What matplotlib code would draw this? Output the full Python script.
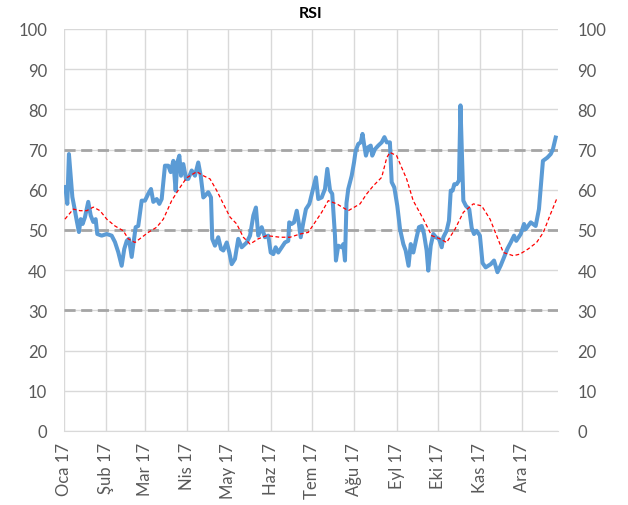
import numpy as np
import matplotlib
matplotlib.use("Agg")
import matplotlib.pyplot as plt

# Days since 2017-01-01 and RSI values
rsi_days = [1, 2.4, 3.6, 4.9, 6.1, 7.5, 9.3, 10.9, 12.2, 13.6, 15.3, 17.7, 19.5, 21.4, 23.1, 24.3,
            27.5, 31.2, 34.8, 37.2, 39.6, 42.1, 44.0, 45.8, 47.4, 49.4, 52.3, 54.2, 56.7, 59.1,
            61.5, 63.5, 65.2, 67.7, 69.6, 71.3, 73.7, 76.1, 77.9, 79.8, 81.5, 82.7, 84.2, 85.4,
            87.1, 89.1, 90.7, 93.2, 95.6, 98.0, 99.8, 101.7, 102.9, 105.3, 107.3, 108.2, 110.2,
            112.6, 114.6, 116.3, 118.8, 120.7, 122.4, 124.8, 127.2, 129.7, 133.4, 135.8, 138.2,
            140.1, 141.8, 144.3, 146.7, 149.1, 150.9, 152.8, 154.5, 156.4, 158.9, 161.3, 163.7,
            164.4, 166.2, 167.9, 169.9, 171.5, 172.8, 174.7, 176.6, 179.1, 181.5, 183.9, 185.6,
            188.1, 190.5, 192.2, 194.2, 195.8, 197.8, 198.5, 200.2, 202.7, 203.9, 205.1, 206.2,
            207.5, 210.0, 211.7, 212.9, 214.8, 216.6, 217.9, 219.0, 220.4, 222.1, 223.9, 225.0,
            227.0, 229.4, 231.9, 233.9, 235.6, 237.9, 239.2, 241.1, 243.3, 245.3, 247.7, 249.4,
            251.5, 253.1, 255.0, 257.4, 259.1, 261.1, 262.8, 264.7, 265.9, 267.7, 269.6, 271.5,
            273.7, 275.7, 276.9, 279.3, 281.0, 282.3, 283.7, 284.9, 286.6, 288.3, 289.4, 290.3,
            291.5, 293.4, 295.8, 297.6, 299.3, 301.2, 303.6, 305.5, 307.8, 311.5, 313.9, 316.4,
            318.8, 321.2, 323.6, 326.1, 328.5, 330.1, 333.4, 335.8, 337.0, 340.7, 344.3, 346.7,
            349.6, 352.8, 355.3, 356.9, 358.9]
rsi_vals = [60.7, 56.5, 68.9, 63.5, 58.2, 55.7, 52.3, 49.5, 52.7, 51.5, 53.2, 57.0, 53.6, 52.0, 52.7, 49.0,
            48.6, 49.0, 48.6, 47.0, 44.5, 41.1, 45.3, 47.3, 47.8, 43.3, 50.7, 51.0, 57.3, 57.3,
            59.0, 60.2, 57.0, 57.7, 56.5, 57.7, 66.0, 66.0, 64.4, 67.2, 59.8, 66.8, 68.5, 63.5,
            66.4, 62.7, 62.7, 64.8, 63.5, 66.8, 63.5, 58.1, 58.5, 59.4, 58.1, 47.8, 46.1,
            48.2, 45.3, 44.9, 46.9, 44.4, 41.5, 42.8, 47.8, 45.7, 46.9, 48.6, 53.6,
            55.6, 48.6, 50.7, 48.2, 48.6, 44.4, 44.0, 45.7, 44.4, 45.7, 46.9, 47.3,
            51.9, 51.5, 51.9, 54.8, 51.5, 48.2, 51.9, 55.2, 56.5, 59.8, 63.1, 57.7,
            58.1, 60.2, 65.2, 59.8, 59.0, 48.6, 42.4, 46.1, 45.7, 46.5, 42.4, 56.7,
            60.2, 63.5, 66.8, 69.7, 71.4, 71.8, 73.9, 71.4, 68.5, 70.6, 71.0, 68.5,
            70.1, 71.0, 71.8, 73.1, 71.8, 71.8, 61.9, 60.6, 56.0, 50.2, 46.5, 44.9,
            41.1, 46.5, 44.4, 48.2, 50.7, 51.0, 49.0, 44.9, 39.9, 46.1, 49.0, 48.2,
            47.8, 45.7, 48.2, 49.8, 52.3, 59.8, 59.8, 61.4, 61.4, 62.3, 81.0, 70.6,
            57.3, 56.0, 55.2, 50.5, 49.0, 49.8, 48.6, 41.8, 40.7, 41.5, 42.4, 39.5,
            41.2, 43.2, 45.3, 46.9, 48.6, 47.3, 49.0, 51.5, 50.2, 51.9, 51.0, 55.2,
            67.2, 68.0, 68.9, 70.1, 73.0]

# Moving average (red dotted)
ma_days = [0.7, 6.8, 11.7, 16.6, 21.4, 26.3, 31.2, 37.2, 43.3, 46.9, 51.8, 61.5, 67.7, 72.5, 78.6,
           84.7, 89.6, 96.9, 101.7, 106.6, 111.5, 116.3, 121.2, 126.1, 130.9, 135.8, 141.8, 148.0,
           157.7, 165.0, 172.3, 178.3, 183.2, 188.1, 192.9, 199.1, 207.5, 216.1, 221.0, 225.8,
           231.9, 235.6, 237.9, 242.8, 246.4, 250.1, 254.9, 262.3, 268.4, 274.5, 279.3, 285.4,
           291.5, 298.8, 304.9, 311.0, 315.8, 320.7, 328.0, 332.8, 338.9, 345.0, 349.9, 354.7, 359.6]
ma_vals = [52.7, 55.2, 54.8, 54.8, 55.7, 54.8, 52.7, 51.0, 49.8, 47.8, 46.9, 49.4, 50.7, 52.7, 57.3,
           60.6, 63.0, 64.5, 63.5, 62.7, 59.8, 56.5, 53.2, 51.5, 48.2, 46.5, 47.8, 48.6,
           48.2, 48.2, 49.0, 49.4, 51.9, 54.4, 57.3, 56.5, 54.8, 56.5, 59.0, 61.0,
           63.1, 68.0, 69.3, 68.5, 65.6, 62.7, 57.3, 52.7, 48.6, 47.8, 46.9, 50.2,
           54.4, 56.5, 56.0, 52.7, 48.6, 44.4, 43.6, 44.0, 45.3, 46.9, 49.4, 53.6, 57.7]

levels = [30, 50, 70]
month_labels = ["Oca 17", "Şub 17", "Mar 17", "Nis 17", "May 17", "Haz 17",
                "Tem 17", "Ağu 17", "Eyl 17", "Eki 17", "Kas 17", "Ara 17"]
month_starts = [0, 31, 59, 90, 120, 151, 181, 212, 243, 273, 304, 334]
title = "RSI"

plt.rcParams['font.family'] = ['Lato', 'DejaVu Sans']
fig = plt.figure(figsize=(6.28, 5.06), dpi=100)
ax = fig.add_axes([64/628, 1-432/506, 494/628, 402/506])

ax.set_xlim(0, 360.6)
ax.set_ylim(0, 100)
ax.set_yticks(range(0, 101, 10))
ax.set_xticks(month_starts)
ax.set_xticklabels(month_labels, rotation=90, fontsize=12, color='#595959')
ax.tick_params(axis='both', length=0, labelsize=12, labelcolor='#595959')
ax.tick_params(axis='x', pad=8)
ax.tick_params(axis='y', pad=12)
ax.grid(True, color='#D9D9D9', linewidth=1)
ax.set_axisbelow(True)
for s in ['top', 'right', 'left']:
    ax.spines[s].set_visible(False)
ax.spines['bottom'].set_color('#D9D9D9')

for lv in levels:
    ax.axhline(lv, color='#A5A5A5', linewidth=2, linestyle=(0, (4, 2)), zorder=2)

ax.plot(rsi_days, rsi_vals, color='#5B9BD5', linewidth=2.9, solid_joinstyle='round', zorder=4)
ax.plot(ma_days, ma_vals, color='#FF0000', linewidth=0.9, linestyle=(0, (3, 2)), zorder=5)

ax2 = ax.twinx()
ax2.set_ylim(0, 100)
ax2.set_yticks(range(0, 101, 10))
ax2.tick_params(axis='y', length=0, labelsize=12, labelcolor='#595959', pad=14)
for s in ax2.spines.values():
    s.set_visible(False)

fig.text(0.5*(64+558)/628, 1-14/506, title, ha='center', va='center',
         fontsize=11.5, fontweight='bold', color='#000000')

fig.savefig("out.png", dpi=100)
